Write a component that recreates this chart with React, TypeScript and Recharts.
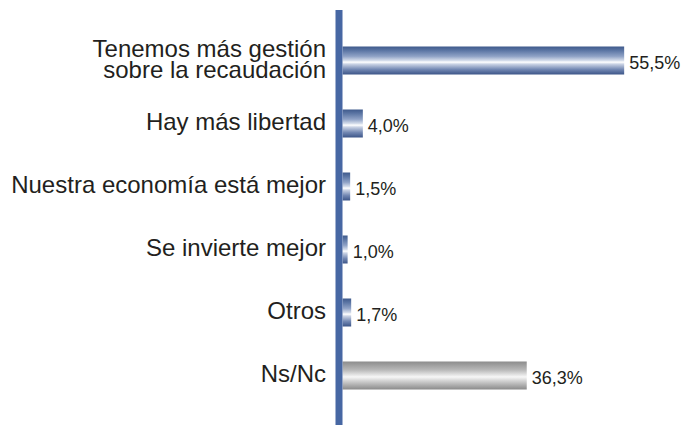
import { Bar, BarChart, Cell, LabelList, XAxis, YAxis } from 'recharts'

const categories = [
	'Tenemos más gestión\nsobre la recaudación',
	'Hay más libertad',
	'Nuestra economía está mejor',
	'Se invierte mejor',
	'Otros',
	'Ns/Nc',
]
const values = [55.5, 4.0, 1.5, 1.0, 1.7, 36.3]
const fills = ['blue', 'blue', 'blue', 'blue', 'blue', 'gray']

const data = categories.map((name, i) => ({ name, value: values[i], fill: fills[i] }))

const fmt = (v: number) => v.toFixed(1).replace('.', ',') + '%'

const CategoryTick = (props: any) => {
	const { x, y, payload } = props
	const lines = String(payload.value).split('\n')
	const tx = x - 5
	if (lines.length === 1) {
		return (
			<text x={tx} y={y + 7} textAnchor='end' fontSize={24} fill='#231f20'>
				{lines[0]}
			</text>
		)
	}
	return (
		<text x={tx} y={y - 3} textAnchor='end' fontSize={24} fill='#231f20'>
			{lines.map((l, i) => (
				<tspan key={i} x={tx} dy={i === 0 ? 0 : 21}>
					{l}
				</tspan>
			))}
		</text>
	)
}

const ValueLabel = (props: any) => {
	const { x, y, width, height, value } = props
	return (
		<text x={x + width + 5} y={y + height / 2 + 8} fontSize={18} fill='#231f20'>
			{fmt(value)}
		</text>
	)
}

const App = () => {
	return (
		<div
			style={{
				position: 'absolute',
				left: 0,
				top: 0,
				fontFamily: '"Liberation Sans", Arial, sans-serif',
			}}
		>
			<BarChart
				width={691}
				height={425}
				data={data}
				layout='vertical'
				margin={{ top: 10, right: 44, bottom: 0, left: 0 }}
			>
				<defs>
					<linearGradient id='gBlue' x1='0' y1='0' x2='0' y2='1'>
						<stop offset='0%' stopColor='#3f5a8c' />
						<stop offset='15%' stopColor='#5d77a5' />
						<stop offset='35%' stopColor='#8fa2c6' />
						<stop offset='50%' stopColor='#d4dcea' />
						<stop offset='56%' stopColor='#ffffff' />
						<stop offset='63%' stopColor='#c9d2e4' />
						<stop offset='82%' stopColor='#7287b2' />
						<stop offset='100%' stopColor='#3c5588' />
					</linearGradient>
					<linearGradient id='gGray' x1='0' y1='0' x2='0' y2='1'>
						<stop offset='0%' stopColor='#8c8c8c' />
						<stop offset='30%' stopColor='#b8b8b8' />
						<stop offset='55%' stopColor='#f7f7f7' />
						<stop offset='70%' stopColor='#d0d0d0' />
						<stop offset='100%' stopColor='#8a8a8a' />
					</linearGradient>
				</defs>
				<XAxis type='number' hide domain={[-0.7, 60]} allowDataOverflow />
				<YAxis
					type='category'
					dataKey='name'
					width={339}
					padding={{ top: 18.5, bottom: 18.5 }}
					axisLine={{ stroke: '#4767a3', strokeWidth: 7 }}
					tickLine={false}
					tick={<CategoryTick />}
					interval={0}
				/>
				<Bar dataKey='value' barSize={28} isAnimationActive={false}>
					{data.map((d, i) => (
						<Cell key={i} fill={d.fill === 'gray' ? 'url(#gGray)' : 'url(#gBlue)'} />
					))}
					<LabelList dataKey='value' content={<ValueLabel />} />
				</Bar>
			</BarChart>
		</div>
	)
}

export default App
